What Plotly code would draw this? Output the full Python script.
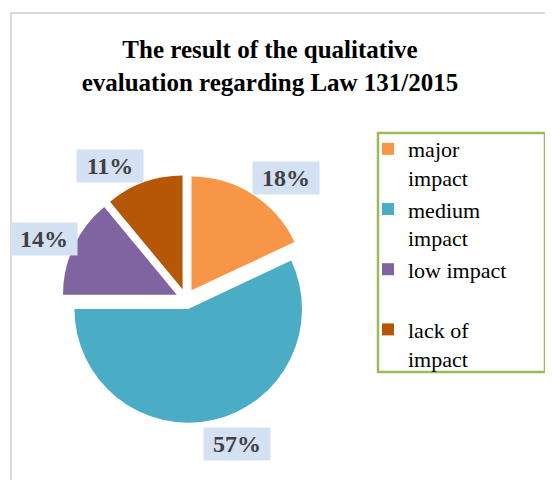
import plotly.graph_objects as go

categories = ["major<br>impact", "medium<br>impact", "low impact<br>\u00a0", "lack of<br>impact"]
values = [18, 57, 14, 11]
colors = ["#F79646", "#4BACC6", "#8064A2", "#B65708"]

W, H = 553, 480
OFF = 8  # page body margin in the browser
SERIF = "Liberation Serif"

def px(x):
    return (x - OFF) / W

def py(y):
    return 1 - (y - OFF) / H

fig = go.Figure()
fig.add_trace(go.Pie(
    labels=categories,
    values=values,
    sort=False,
    direction="clockwise",
    rotation=0,
    pull=[0.09] * len(values),
    marker=dict(colors=colors, line=dict(width=0)),
    textinfo="none",
    hoverinfo="label+percent",
    domain=dict(x=[px(62), px(310)], y=[py(423), py(175)]),
))

# data labels (boxes) placed around the pie
label_pos = [(286, 177.5), (236.5, 444), (43.5, 238.5), (110, 166)]
total = sum(values)
for v, (x, y) in zip(values, label_pos):
    fig.add_annotation(
        x=px(x), y=py(y), xref="paper", yref="paper",
        text=f"<b>{round(100 * v / total)}%</b>", showarrow=False,
        font=dict(family=SERIF, size=24, color="#404040"),
        bgcolor="#D3E1F3", width=64, height=30,
        xanchor="center", yanchor="middle",
    )

# chart area border
fig.add_shape(type="rect", xref="paper", yref="paper",
              x0=px(11), y0=py(13), x1=px(W + 30), y1=py(H + 30),
              line=dict(color="#D9D9D9", width=2), fillcolor="rgba(0,0,0,0)", layer="below")

# legend border
fig.add_shape(type="rect", xref="paper", yref="paper",
              x0=px(378), y0=py(133), x1=px(545), y1=py(372),
              line=dict(color="#9BBB59", width=2.5), fillcolor="white", layer="below")

fig.update_layout(
    width=W, height=H,
    margin=dict(l=0, r=0, t=0, b=0),
    paper_bgcolor="white",
    plot_bgcolor="white",
    font=dict(family=SERIF),
    title=dict(
        text="<b>The result of the qualitative<br>evaluation regarding Law 131/2015</b>",
        x=px(270), xanchor="center", y=py(58), yanchor="top", yref="container",
        font=dict(family=SERIF, size=25, color="black"),
    ),
    legend=dict(
        x=px(368), y=py(128), xanchor="left", yanchor="top",
        borderwidth=0, bgcolor="rgba(0,0,0,0)",
        font=dict(family=SERIF, size=22, color="black"),
        valign="top", itemwidth=30,
    ),
    showlegend=True,
)

fig.write_html("out.html")
